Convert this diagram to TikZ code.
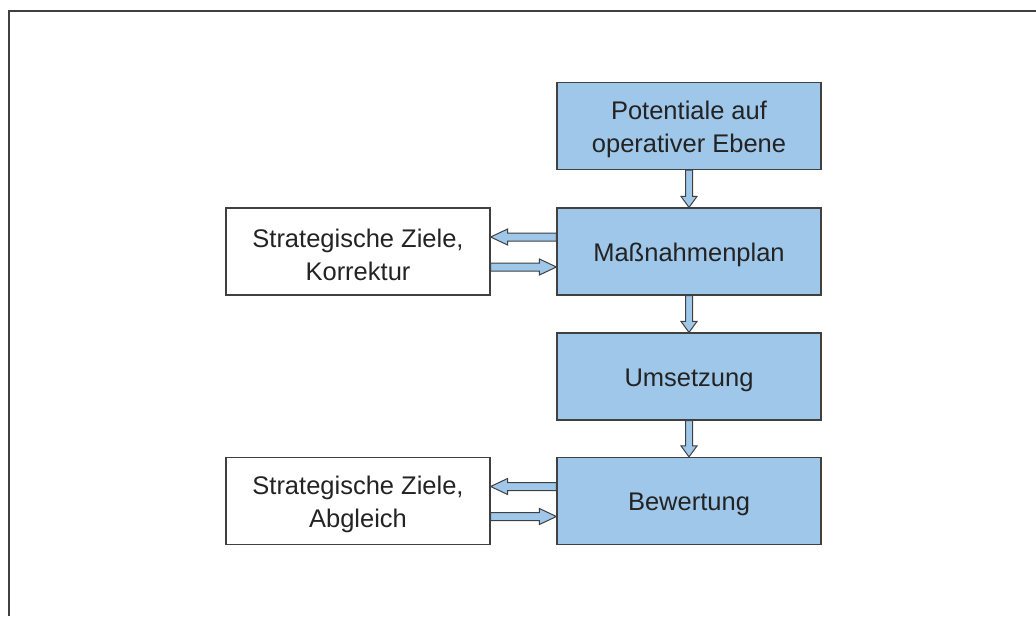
\documentclass[tikz,border=0pt]{standalone}
\usepackage{fontspec}
\setmainfont{Liberation Sans}
\usetikzlibrary{calc}
\definecolor{boxblue}{RGB}{159,199,233}
\definecolor{edgegray}{RGB}{64,64,64}
\definecolor{inkgray}{RGB}{35,35,35}
\tikzset{
  box/.style={draw=edgegray, line width=1.2pt, minimum width=264pt, minimum height=87pt,
    inner sep=0pt},
  txt/.style={inner sep=0pt, align=center, text=inkgray, yshift=-3.5pt,
    font=\fontsize{25.5}{32.4}\selectfont},
  boxlabel/.style={label={[txt]center:{#1}}},
  bluebox/.style={box, fill=boxblue},
  whitebox/.style={box, fill=white},
  blk/.style={draw=edgegray, fill=boxblue, line width=1pt, line join=miter}
}
% block arrow pointing down from #1.south to #2.north
\newcommand\downblk[2]{%
  \draw[blk] ($(#1.south)+(-3.5,0)$) -- ($(#2.north)+(-3.5,-11)$) -- ($(#2.north)+(-8,-11)$)
    -- (#2.north) -- ($(#2.north)+(8,-11)$) -- ($(#2.north)+(3.5,-11)$)
    -- ($(#1.south)+(3.5,0)$) -- cycle;}
% block arrow pointing left from #1.west to #2.east, shifted vertically by #3
\newcommand\leftblk[3]{%
  \draw[blk] ($(#1.west)+(0,#3-4)$) -- ($(#2.east)+(17,#3-4)$) -- ($(#2.east)+(17,#3-8)$)
    -- ($(#2.east)+(0,#3)$) -- ($(#2.east)+(17,#3+8)$) -- ($(#2.east)+(17,#3+4)$)
    -- ($(#1.west)+(0,#3+4)$) -- cycle;}
% block arrow pointing right from #1.east to #2.west, shifted vertically by #3
\newcommand\rightblk[3]{%
  \draw[blk] ($(#1.east)+(0,#3-4)$) -- ($(#2.west)+(-17,#3-4)$) -- ($(#2.west)+(-17,#3-8)$)
    -- ($(#2.west)+(0,#3)$) -- ($(#2.west)+(-17,#3+8)$) -- ($(#2.west)+(-17,#3+4)$)
    -- ($(#1.east)+(0,#3+4)$) -- cycle;}
\begin{document}
\begin{tikzpicture}[x=1pt,y=-1pt]
  \useasboundingbox (0,0) rectangle (1036,616);
  \fill[white] (0,0) rectangle (1036,616);
  % frame
  \draw[edgegray, line width=2pt] (9,616) -- (9,11) -- (1036,11);

  % main chain
  \node[bluebox, boxlabel={Potentiale auf\\operativer Ebene}] (pot)  at (689,126)   {};
  \node[bluebox, boxlabel={Maßnahmenplan}]                    (plan) at (689,251.5) {};
  \node[bluebox, boxlabel={Umsetzung}]                        (ums)  at (689,376.5) {};
  \node[bluebox, boxlabel={Bewertung}]                        (bew)  at (689,501)   {};

  % side boxes
  \node[whitebox, boxlabel={Strategische Ziele,\\Korrektur}] (korr) at (358,251.5) {};
  \node[whitebox, boxlabel={Strategische Ziele,\\Abgleich}]  (abgl) at (358,501)   {};

  % connectors
  \downblk{pot}{plan}
  \downblk{plan}{ums}
  \downblk{ums}{bew}
  \leftblk{plan}{korr}{-14.5}
  \rightblk{korr}{plan}{15.5}
  \leftblk{bew}{abgl}{-14.5}
  \rightblk{abgl}{bew}{15.5}
\end{tikzpicture}
\end{document}
